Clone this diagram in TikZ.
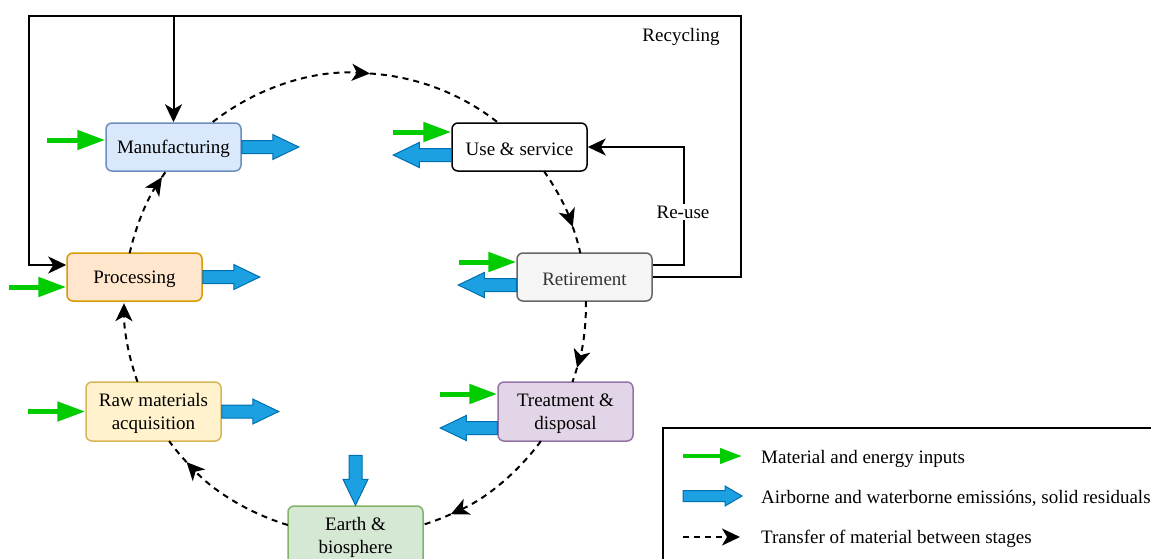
\documentclass[tikz,border=0pt]{standalone}
\usepackage{fontspec}
\setmainfont{Liberation Serif}
\usetikzlibrary{arrows.meta,calc}

\definecolor{mfgfill}{HTML}{DAE8FC}  \definecolor{mfgline}{HTML}{6C8EBF}
\definecolor{procfill}{HTML}{FFE6CC} \definecolor{procline}{HTML}{D79B00}
\definecolor{retfill}{HTML}{F5F5F5}  \definecolor{retline}{HTML}{666666}
\definecolor{rettext}{HTML}{333333}
\definecolor{rawfill}{HTML}{FFF2CC}  \definecolor{rawline}{HTML}{D6B656}
\definecolor{trtfill}{HTML}{E1D5E7}  \definecolor{trtline}{HTML}{9673A6}
\definecolor{earthfill}{HTML}{D5E8D4} \definecolor{earthline}{HTML}{82B366}
\definecolor{inputgreen}{HTML}{00CC00}
\definecolor{emitblue}{HTML}{1BA1E2} \definecolor{emitline}{HTML}{006EAF}

% taller first line, so stage labels sit slightly lower in their boxes
\newcommand\stagestrut{\rule{0pt}{18pt}}

\begin{document}
\begin{tikzpicture}[x=1pt,y=-1pt,
  font=\fontsize{19}{23}\selectfont,
  stage/.style={draw, line width=1.5pt, rounded corners=6pt,
    minimum width=135pt, minimum height=48pt, align=center, inner sep=0pt},
  twoline/.style={minimum height=59pt},
  flowpath/.style={line width=2pt, dash pattern=on 6pt off 5pt},
  flowtip/.style={flowpath, -{Stealth[length=18pt,width=17pt,inset=5pt]}},
  linkline/.style={line width=2pt, -{Stealth[length=18pt,width=17pt,inset=5pt]}},
  input/.style={draw=inputgreen, line width=5pt, -{Triangle[length=28pt,width=19pt]}},
  smallinput/.style={draw=inputgreen, line width=4pt, -{Triangle[length=22pt,width=15pt]}},
  emitshape/.style={fill=emitblue, draw=emitline, line width=1pt, line join=miter},
  pics/emission/.style={code={
    \draw[emitshape] (0,-6.5) -- (#1,-6.5) -- (#1,-12.5) -- ({#1+26},0)
      -- (#1,12.5) -- (#1,6.5) -- (0,6.5) -- cycle;}}
]
\useasboundingbox (0,0) rectangle (1151,558);
\clip (0,0) rectangle (1151,558);

% life-cycle stages
\node[stage, fill=mfgfill, draw=mfgline]  (mfg)   at (173.5,147) {\stagestrut Manufacturing};
\node[stage, fill=white, draw=black]      (use)   at (519.5,147) {\stagestrut Use \& service};
\node[stage, fill=procfill, draw=procline] (proc) at (134.5,277) {\stagestrut Processing};
\node[stage, fill=retfill, draw=retline, text=rettext] (ret) at (584.5,277) {\stagestrut Retirement};
\node[stage, twoline, fill=rawfill, draw=rawline] (raw) at (153.5,411.5) {\stagestrut Raw materials\\acquisition};
\node[stage, twoline, fill=trtfill, draw=trtline] (trt) at (565.5,411.5) {\stagestrut Treatment \&\\disposal};
\node[stage, twoline, fill=earthfill, draw=earthline] (earth) at (355.5,535.5) {\stagestrut Earth \&\\biosphere};

% material transfer ring (clockwise)
\coordinate (c) at (355,304);
\draw[flowtip]  ($(c)+(128:231pt)$)   arc[start angle=128,   end angle=86.3,   radius=231pt] coordinate (t1);
\draw[flowpath] (t1)                  arc[start angle=86.3,  end angle=52,     radius=231pt];
\draw[flowtip]  ($(c)+(35.1:231pt)$)  arc[start angle=35.1,  end angle=19.5,   radius=231pt] coordinate (t2);
\draw[flowpath] (t2)                  arc[start angle=19.5,  end angle=12.7,   radius=231pt];
\draw[flowtip]  ($(c)+(0.7:231pt)$)   arc[start angle=0.7,   end angle=-16,    radius=231pt] coordinate (t3);
\draw[flowpath] (t3)                  arc[start angle=-16,   end angle=-19.7,  radius=231pt];
\draw[flowtip]  ($(c)+(-36.4:231pt)$) arc[start angle=-36.4, end angle=-65.5,  radius=231pt] coordinate (t4);
\draw[flowpath] (t4)                  arc[start angle=-65.5, end angle=-72.9,  radius=231pt];
\draw[flowtip]  ($(c)+(-106.9:231pt)$) arc[start angle=-106.9, end angle=-136.8, radius=231pt] coordinate (t5);
\draw[flowpath] (t5)                  arc[start angle=-136.8, end angle=-143.6, radius=231pt];
\draw[flowtip]  ($(c)+(-160.3:231pt)$) arc[start angle=-160.3, end angle=-180.2, radius=231pt];
\draw[flowtip]  ($(c)+(167.3:231pt)$) arc[start angle=167.3, end angle=146.7,  radius=231pt] coordinate (t7);
\draw[flowpath] (t7)                  arc[start angle=146.7, end angle=144.8,  radius=231pt];

% recycling loop
\coordinate (rtr) at (741,16);
\coordinate (rtl) at (29,16);
\draw[linkline] (ret.east) -| (rtr) -- (rtl) |- ([yshift=12pt]proc.west);
\draw[linkline] (mfg.north |- rtl) -- (mfg.north);
\node (recyc) at (681,37) {Recycling};

% re-use loop
\draw[linkline] ([yshift=12pt]ret.east) -- ++(31,0) |- (use.east);
\node[fill=white, inner sep=2pt] (reuse) at (683,212) {Re-use};

% material and energy inputs
\draw[input] ([xshift=-58pt,yshift=7pt]mfg.west)   -- ([yshift=7pt]mfg.west);
\draw[input] ([xshift=-58pt,yshift=15pt]use.west)  -- ([yshift=15pt]use.west);
\draw[input] ([xshift=-57pt,yshift=-10pt]proc.west) -- ([yshift=-10pt]proc.west);
\draw[input] ([xshift=-57pt,yshift=15pt]ret.west)  -- ([yshift=15pt]ret.west);
\draw[input] ([xshift=-57pt]raw.west)               -- (raw.west);
\draw[input] ([xshift=-57pt,yshift=17.5pt]trt.west) -- ([yshift=17.5pt]trt.west);

% emissions and residuals
\pic at (mfg.east) {emission=31};
\pic at (proc.east) {emission=31};
\pic at (raw.east) {emission=31};
\pic[rotate=180] at ([yshift=-8pt]use.west) {emission=32};
\pic[rotate=180] at ([yshift=-8pt]ret.west) {emission=32};
\pic[rotate=180] at ([yshift=-16.5pt]trt.west) {emission=31};
\pic[rotate=-90] at ([yshift=50pt]earth.north) {emission=24};

% legend
\draw[line width=2pt] (663,428) rectangle (1180,590);
\draw[smallinput] (683,456) -- (742,456);
\draw[emitshape] (683,490.5) -- (725,490.5) -- (725,486) -- (742,496)
  -- (725,506) -- (725,501.5) -- (683,501.5) -- cycle;
\draw[flowtip] (683,537) -- (740,537);
\node[anchor=base west, inner sep=0pt] (leg1) at (761,463) {Material and energy inputs};
\node[anchor=base west, inner sep=0pt] (leg2) at (761,503) {Airborne and waterborne emissións, solid residuals};
\node[anchor=base west, inner sep=0pt] (leg3) at (761,543) {Transfer of material between stages};
\end{tikzpicture}
\end{document}
